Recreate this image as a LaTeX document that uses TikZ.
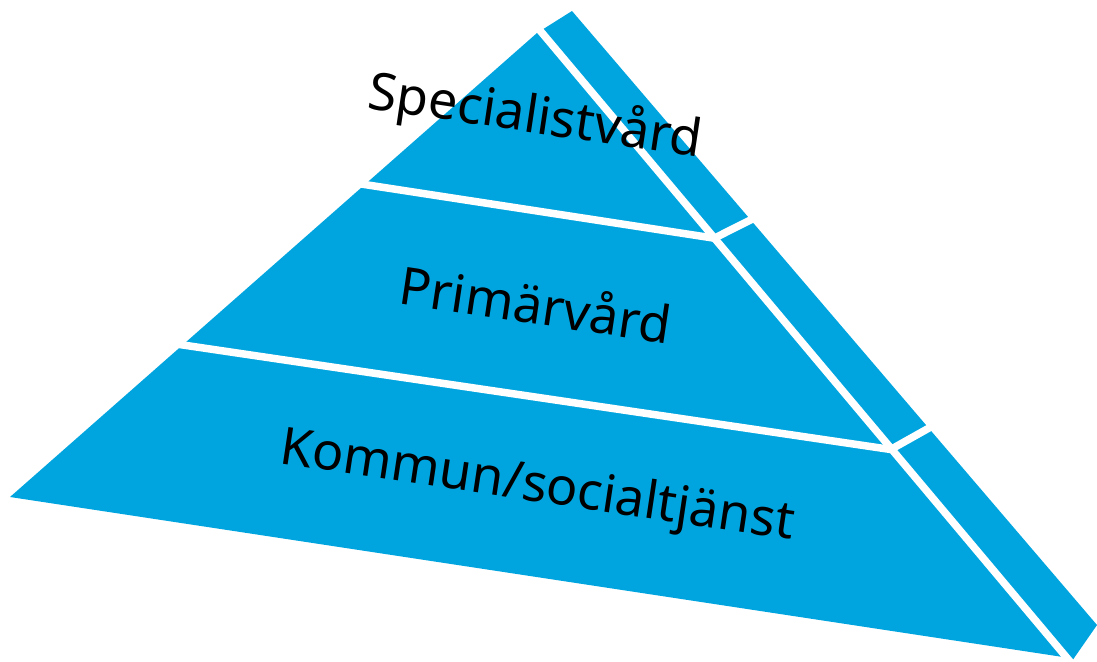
\documentclass[tikz,border=0pt]{standalone}
\usepackage{fontspec}
\setmainfont{Noto Sans}
\definecolor{pyrblue}{HTML}{00A5E0}
\begin{document}
\begin{tikzpicture}[x=1pt,y=-1pt,
  face/.style={fill=pyrblue,draw=none},
  gap/.style={draw=white,line width=7.5pt},
  tierlabel/.style={font=\fontsize{52}{60}\selectfont,text=black,rotate=-8.5,inner sep=0pt}]
\useasboundingbox (0,0) rectangle (1097,661);
% body: front face and side face as one shape
\fill[face] (10,497) -- (537,33) -- (572,11) -- (1097,625) -- (1072,661) -- (1063,657) -- cycle;
% gap between front and side
\coordinate (gtop) at (497.6,-20);
\coordinate (gbot) at (1102.3,700);
\draw[gap] (gtop) -- (gbot);
% tier separators on the front face
\coordinate (s1l) at (300,174.6);
\coordinate (s1r) at (714.3,238.2);
\coordinate (s2l) at (120,335.7);
\coordinate (s2r) at (890.7,449.5);
\draw[gap] (s1l) -- (s1r);
\draw[gap] (s2l) -- (s2r);
% tier separators on the side face
\coordinate (t1l) at (714.3,238.2);
\coordinate (t1r) at (790,200);
\coordinate (t2l) at (890.7,449.5);
\coordinate (t2r) at (970,405);
\draw[gap] (t1l) -- (t1r);
\draw[gap] (t2l) -- (t2r);
% labels
\node[tierlabel] (spec) at (535,118) {Specialistvård};
\node[tierlabel] (prim) at (536,303) {Primärvård};
\node[tierlabel] (komm) at (537,488) {Kommun/socialtjänst};
\end{tikzpicture}
\end{document}
